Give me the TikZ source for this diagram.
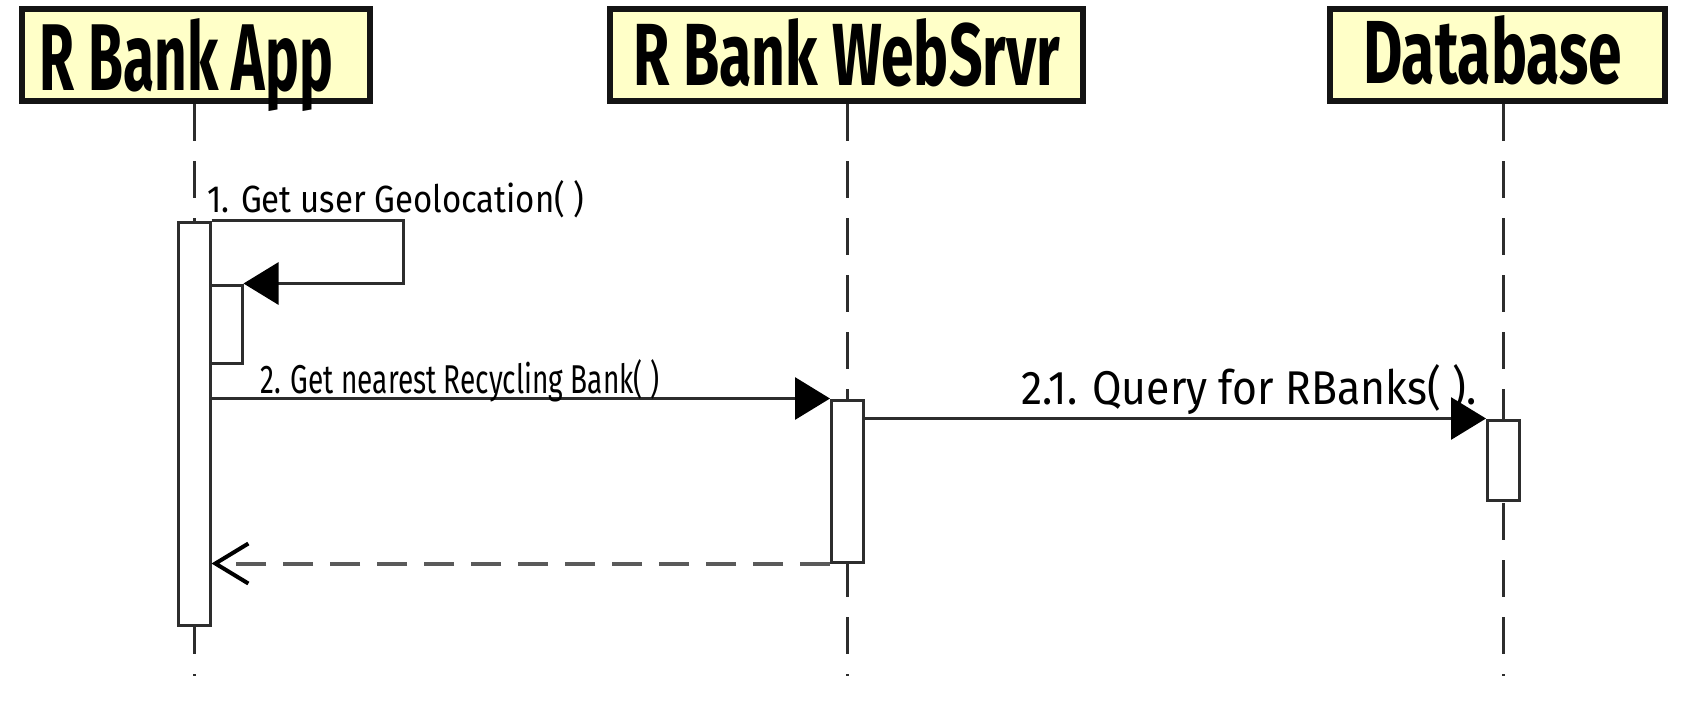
\documentclass[tikz,border=0pt]{standalone}
\usepackage{fontspec}
\usepackage{graphicx}
\usetikzlibrary{arrows.meta}
\newfontfamily\handfont{Fira Sans}
\definecolor{hdrfill}{RGB}{255,255,200}
\definecolor{hdrline}{RGB}{20,20,20}
\definecolor{ink}{RGB}{45,45,45}
\definecolor{retgray}{RGB}{90,90,90}
\begin{document}
\begin{tikzpicture}[x=0.5pt,y=-0.5pt,
  header/.style={draw=hdrline, fill=hdrfill, line width=3pt, inner sep=0pt, minimum height=46pt},
  lifeline/.style={draw=ink, line width=1.5pt, dash pattern=on 18.5pt off 10pt},
  act/.style={draw=ink, fill=white, line width=1.5pt, inner sep=0pt, minimum width=16pt},
  msg/.style={draw=ink, line width=1.5pt, -{Triangle[length=17.5pt,width=21pt,black]}},
  ret/.style={draw=retgray, line width=2pt, dash pattern=on 15pt off 8.5pt, -{Straight Barb[length=16.5pt,width=20pt,black]}},
  msglabel/.style={inner sep=0pt, anchor=base west}]
\fill[white] (0,0) rectangle (1695,714);
\useasboundingbox (0,0) rectangle (1695,714);
% headers
\node[header, minimum width=174pt, text height=36pt, text depth=1pt] (app) at (196,55)
  {\resizebox{146.5pt}{36pt}{\handfont\bfseries R Bank App}\hspace*{9.5pt}};
\node[header, minimum width=236.5pt, text height=33.5pt, text depth=3.5pt] (web) at (846.5,55)
  {\resizebox{213.5pt}{33.5pt}{\handfont\bfseries R Bank WebSrvr}};
\node[header, minimum width=167.5pt, text height=34pt, text depth=6pt] (db) at (1497.5,55)
  {\resizebox{129.5pt}{34pt}{\handfont\bfseries Database}\hspace*{5pt}};
% activation positions
\coordinate (lifeend) at (0,676);
\path (194,423.5) coordinate (act1c) (847.5,481) coordinate (webc) (1503.5,460) coordinate (dbc);
% lifelines
\draw[lifeline] (app.south -| act1c) -- (act1c |- lifeend);
\draw[lifeline] (web.south -| webc) -- (webc |- lifeend);
\draw[lifeline] (db.south -| dbc) -- (dbc |- lifeend);
% activation boxes
\node[act, minimum height=201.5pt] (act1) at (act1c) {};
\node[act, minimum height=39pt] (act2) at (226,324) {};
\node[act, minimum height=81pt] (webact) at (webc) {};
\node[act, minimum height=40pt] (dbact) at (dbc) {};
% messages
\draw[msg] (act1.north east) -- ++(192,0) |- (act2.north east);
\draw[msg] (act1.east |- webact.north west) -- (webact.north west);
\draw[msg] (webact.east |- dbact.north west) -- (dbact.north west);
\draw[ret] (webact.south west) -- (act1.east |- webact.south west);
% labels
\node[msglabel] (l1) at (207,212) {\resizebox{188.5pt}{16pt}{\handfont 1. Get user Geolocation( )}};
\node[msglabel] (l2) at (260,393) {\resizebox{199.5pt}{17pt}{\handfont 2. Get nearest Recycling Bank( )}};
\node[msglabel] (l3) at (1021,404) {\resizebox{227.5pt}{20pt}{\handfont 2.1. Query for RBanks( ).}};
\end{tikzpicture}
\end{document}
